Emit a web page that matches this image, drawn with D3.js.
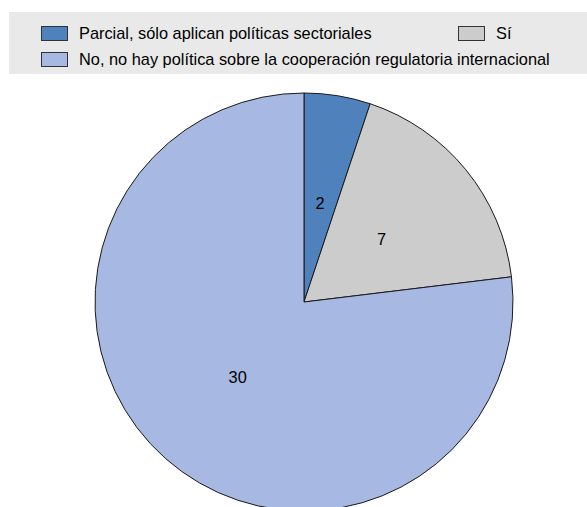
<!DOCTYPE html>
<html>
    <head>
        <meta charset="UTF-8">
        <title>Pie Chart</title>
        <script src="https://d3js.org/d3.v7.min.js"></script>
        <style>
            body{margin:0;background:#fff;}
            text{font-family:"Liberation Sans Narrow","Arial Narrow","Liberation Sans",Arial,sans-serif;fill:#000;}
        </style>
    </head>
    <body>
        <script>
            var categories = ["Parcial, sólo aplican políticas sectoriales", "Sí", "No, no hay política sobre la cooperación regulatoria internacional"];
            var values = [2, 7, 30];
            var colors = ["#4f81bd", "#cccccc", "#a7b8e3"];

            var w = 587, h = 507;
            var cx = 304, cy = 302, r = 209;

            var svg = d3.select("body")
                    .append("svg")
                    .attr("width", w)
                    .attr("height", h);

            // legend box
            svg.append("rect")
                    .attr("x", 9).attr("y", 12)
                    .attr("width", w - 9).attr("height", 62)
                    .attr("fill", "#e9e9e9");

            var legendPos = [{x: 41, y: 26}, {x: 458, y: 26}, {x: 41, y: 52}];
            var leg = svg.selectAll(".leg")
                    .data(categories)
                    .enter()
                    .append("g")
                    .attr("class", "leg")
                    .attr("transform", function(d, i){ return "translate(" + legendPos[i].x + "," + legendPos[i].y + ")"; });
            leg.append("rect")
                    .attr("x", 0.5).attr("y", 0.5)
                    .attr("width", 26).attr("height", 14)
                    .attr("fill", function(d, i){ return colors[i]; })
                    .attr("stroke", "#333")
                    .attr("stroke-width", 1);
            var legText = leg.append("text")
                    .attr("y", 13)
                    .style("font-size", "17px")
                    .text(function(d){ return d; });

            // no narrow font installed: squeeze text horizontally so the longest entry spans ~471px
            var natural = legText.nodes()[2].getComputedTextLength();
            var sx = 471 / natural;
            legText.attr("transform", "translate(38,0) scale(" + sx + ",1)");

            var pie = d3.pie().sort(null)(values);
            var arc = d3.arc().innerRadius(0).outerRadius(r);
            var labelArc = d3.arc().innerRadius(100).outerRadius(100);

            var g = svg.append("g")
                    .attr("transform", "translate(" + cx + "," + cy + ")");

            g.selectAll("path")
                    .data(pie)
                    .enter()
                    .append("path")
                    .attr("d", arc)
                    .attr("fill", function(d, i){ return colors[i]; })
                    .attr("stroke", "#1a1a1a")
                    .attr("stroke-width", 1);

            g.selectAll(".lbl")
                    .data(pie)
                    .enter()
                    .append("text")
                    .attr("class", "lbl")
                    .attr("transform", function(d){ return "translate(" + labelArc.centroid(d) + ") scale(" + sx + ",1)"; })
                    .attr("text-anchor", "middle")
                    .attr("dy", "0.35em")
                    .style("font-size", "17px")
                    .text(function(d){ return d.data; });
        </script>
    </body>
</html>
